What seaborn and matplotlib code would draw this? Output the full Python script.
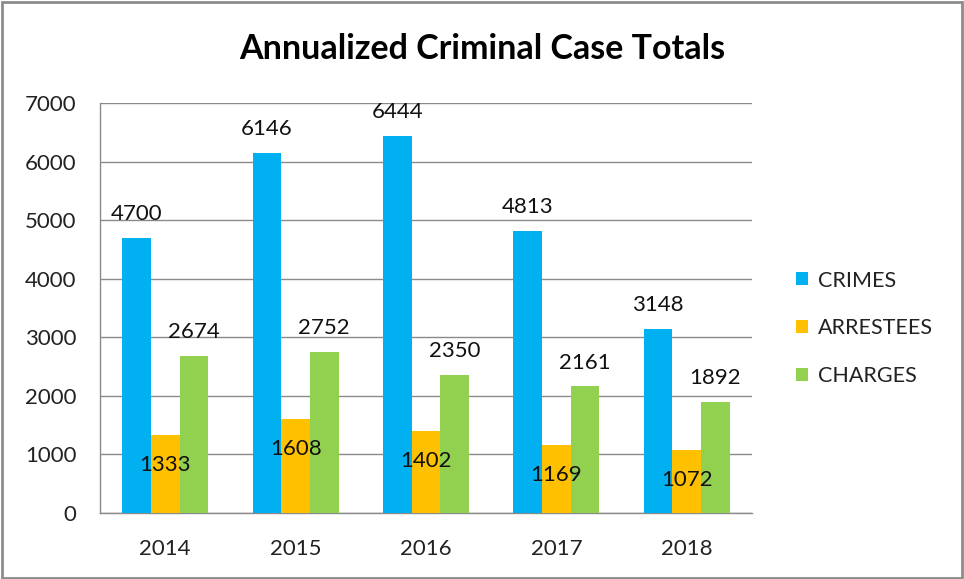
import pandas as pd
import matplotlib.pyplot as plt
import seaborn as sns
from matplotlib.patches import Rectangle

years = ['2014', '2015', '2016', '2017', '2018']
crimes = [4700, 6146, 6444, 4813, 3148]
arrestees = [1333, 1608, 1402, 1169, 1072]
charges = [2674, 2752, 2350, 2161, 1892]
series = ['CRIMES', 'ARRESTEES', 'CHARGES']
colors = ['#00B0F0', '#FFC000', '#92D050']

df = pd.DataFrame({'Year': years * 3,
                   'Series': [s for s in series for _ in years],
                   'Value': crimes + arrestees + charges})

sns.set_style('white')
plt.rcParams['font.family'] = ['Lato', 'DejaVu Sans']

fig = plt.figure(figsize=(9.64, 5.79), dpi=100)
ax = fig.add_axes([100 / 964, 1 - 513 / 579, 652 / 964, 410 / 579])

sns.barplot(data=df, x='Year', y='Value', hue='Series', palette=colors,
            width=0.66, gap=0, ax=ax, zorder=3, saturation=1, linewidth=0)

ax.set_ylim(0, 7000)
ax.set_xlim(-0.5, 4.5)
ax.set_yticks(range(0, 7001, 1000))
ax.yaxis.grid(True, color='#8a8a8a', linewidth=1, zorder=0)
ax.set_xlabel('')
ax.set_ylabel('')
ax.tick_params(axis='both', labelsize=16, colors='#222222', length=0)
ax.tick_params(axis='x', pad=19)
ax.tick_params(axis='y', pad=17)
for s in ['top', 'right']:
    ax.spines[s].set_visible(False)
for s in ['left', 'bottom']:
    ax.spines[s].set_color('#8a8a8a')
    ax.spines[s].set_linewidth(1)

# value labels
for i, cont in enumerate(ax.containers):
    if i == 1:
        ax.bar_label(cont, fmt='%d', padding=-29, fontsize=16, color='#111111')
    else:
        ax.bar_label(cont, fmt='%d', padding=10, fontsize=16, color='#111111')

leg = ax.legend(loc='center left', bbox_to_anchor=(1.038, 0.45), frameon=False,
                fontsize=15.5, handlelength=0.55, handleheight=0.55,
                handletextpad=0.45, labelspacing=1.3)
for t in leg.get_texts():
    t.set_color('#222222')

fig.text(0.5, 1 - 49 / 579, 'Annualized Criminal Case Totals', ha='center', va='center',
         fontsize=24.5, fontweight='bold', color='black')

fig.patches.append(Rectangle((0.002, 0.002), 0.996, 0.994, transform=fig.transFigure,
                             fill=False, edgecolor='#8c8c8c', linewidth=2))

fig.savefig('out.png', dpi=100)
